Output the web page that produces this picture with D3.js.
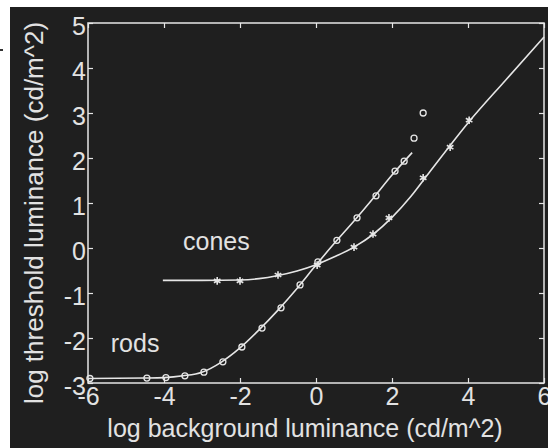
<!DOCTYPE html>
<html>
<head>
<meta charset="utf-8">
<script src="https://cdn.jsdelivr.net/npm/d3@7"></script>
<style>
  body { margin: 0; background: #ffffff; }
  svg { display: block; }
  text { font-family: "Liberation Sans", Arial, sans-serif; fill: #e2e2e2; }
</style>
</head>
<body>
<div id="plot"></div>
<script>
// Tick values
const xTicks = [-6, -4, -2, 0, 2, 4, 6];
const yTicks = [-3, -2, -1, 0, 1, 2, 3, 4, 5];

// Rod fitted curve
const rodCurveX = [-6, -4.5, -4, -3.5, -3, -2.5, -2, -1.5, -1, -0.5, 0, 0.5, 1, 1.5, 2, 2.53];
const rodCurveY = [-2.9, -2.89, -2.88, -2.84, -2.76, -2.54, -2.22, -1.82, -1.38, -0.9, -0.38, 0.12, 0.6, 1.1, 1.62, 2.12];

// Rod data points (circles)
const rodX = [-5.95, -4.45, -3.95, -3.45, -2.95, -2.45, -1.95, -1.42, -0.92, -0.42, 0.05, 0.55, 1.08, 1.58, 2.08, 2.32, 2.58, 2.82];
const rodY = [-2.9, -2.89, -2.88, -2.84, -2.76, -2.53, -2.2, -1.78, -1.33, -0.82, -0.31, 0.17, 0.67, 1.16, 1.71, 1.93, 2.44, 3.0];

// Cone fitted curve
const coneCurveX = [-4.03, -3, -2, -1.5, -1, -0.5, 0, 0.5, 1, 1.5, 2, 2.5, 3, 4, 5, 6];
const coneCurveY = [-0.72, -0.72, -0.71, -0.68, -0.61, -0.51, -0.37, -0.19, 0.02, 0.3, 0.68, 1.15, 1.7, 2.78, 3.74, 4.69];

// Cone data points (asterisks)
const coneX = [-2.6, -2.0, -1.0, 0.03, 1.0, 1.5, 1.92, 2.82, 3.53, 4.03];
const coneY = [-0.73, -0.73, -0.6, -0.38, 0.02, 0.31, 0.67, 1.56, 2.24, 2.84];

const W = 548, H = 448;
const margin = { top: 23, right: 4, bottom: 65, left: 88 };
const width = W - margin.left - margin.right;
const height = H - margin.top - margin.bottom;
const ink = "#e6e6e6";

const svg = d3.select("#plot").append("svg")
    .attr("width", W)
    .attr("height", H);

// dark panel with white strip top/left
svg.append("rect").attr("x", 10).attr("y", 7).attr("width", W - 10).attr("height", H - 7).attr("fill", "#1f1f1f");
svg.append("rect").attr("x", 0).attr("y", 49).attr("width", 3).attr("height", 2).attr("fill", "#333");

const g = svg.append("g").attr("transform", `translate(${margin.left},${margin.top})`);

const x = d3.scaleLinear().domain([-6, 6]).range([0, width]);
const y = d3.scaleLinear().domain([-3, 5]).range([height, 0]);

// box
g.append("rect")
    .attr("width", width).attr("height", height)
    .attr("fill", "none").attr("stroke", ink).attr("stroke-width", 1.5);

function styleAxis(sel, showLabels) {
    sel.select(".domain").remove();
    sel.selectAll(".tick line").attr("stroke", ink).attr("stroke-width", 1.2);
    sel.selectAll(".tick text")
        .attr("fill", "#e2e2e2")
        .style("font-size", "25px")
        .style("font-family", "Liberation Sans, Arial, sans-serif");
    if (!showLabels) sel.selectAll(".tick text").remove();
}

const plain = d => String(d); // hyphen minus, as in the reference

// bottom
g.append("g")
    .attr("transform", `translate(0,${height})`)
    .call(d3.axisBottom(x).tickValues(xTicks).tickSizeInner(-5).tickSizeOuter(0).tickPadding(4).tickFormat(plain))
    .call(sel => styleAxis(sel, true));
// top
g.append("g")
    .call(d3.axisTop(x).tickValues(xTicks).tickSizeInner(-5).tickSizeOuter(0))
    .call(sel => styleAxis(sel, false));
// left
g.append("g")
    .call(d3.axisLeft(y).tickValues(yTicks).tickSizeInner(-5).tickSizeOuter(0).tickPadding(2).tickFormat(plain))
    .call(sel => styleAxis(sel, true))
    .call(sel => sel.selectAll(".tick text").attr("dy", "0.45em"));
// right
g.append("g")
    .attr("transform", `translate(${width},0)`)
    .call(d3.axisRight(y).tickValues(yTicks).tickSizeInner(-5).tickSizeOuter(0))
    .call(sel => styleAxis(sel, false));

// curves
const line = d3.line()
    .x(d => x(d[0]))
    .y(d => y(d[1]))
    .curve(d3.curveMonotoneX);

const plot = g.append("g");

plot.append("path")
    .datum(d3.zip(rodCurveX, rodCurveY))
    .attr("fill", "none").attr("stroke", ink).attr("stroke-width", 1.6)
    .attr("d", line);

plot.append("path")
    .datum(d3.zip(coneCurveX, coneCurveY))
    .attr("fill", "none").attr("stroke", ink).attr("stroke-width", 1.6)
    .attr("d", line);

// rod markers
plot.selectAll("circle.rod")
    .data(d3.zip(rodX, rodY))
    .enter().append("circle")
    .attr("class", "rod")
    .attr("cx", d => x(d[0]))
    .attr("cy", d => y(d[1]))
    .attr("r", 3)
    .attr("fill", "none")
    .attr("stroke", ink)
    .attr("stroke-width", 1.3);

// cone markers
const star = d3.symbol().type(d3.symbolAsterisk).size(40);
plot.selectAll("path.cone")
    .data(d3.zip(coneX, coneY))
    .enter().append("path")
    .attr("class", "cone")
    .attr("transform", d => `translate(${x(d[0])},${y(d[1])})`)
    .attr("d", star)
    .attr("fill", "none")
    .attr("stroke", ink)
    .attr("stroke-width", 1.6);

// labels
g.append("text")
    .attr("x", x(-3.5)).attr("y", y(-0.05))
    .style("font-size", "25px")
    .text("cones");

g.append("text")
    .attr("x", x(-5.4)).attr("y", y(-2.32))
    .style("font-size", "25px")
    .text("rods");

// axis titles
svg.append("text")
    .attr("x", 305).attr("y", 437)
    .attr("text-anchor", "middle")
    .style("font-size", "25px")
    .text("log background luminance (cd/m^2)");

svg.append("text")
    .attr("transform", "translate(43,213) rotate(-90)")
    .attr("text-anchor", "middle")
    .style("font-size", "26px")
    .text("log threshold luminance (cd/m^2)");
</script>
</body>
</html>
